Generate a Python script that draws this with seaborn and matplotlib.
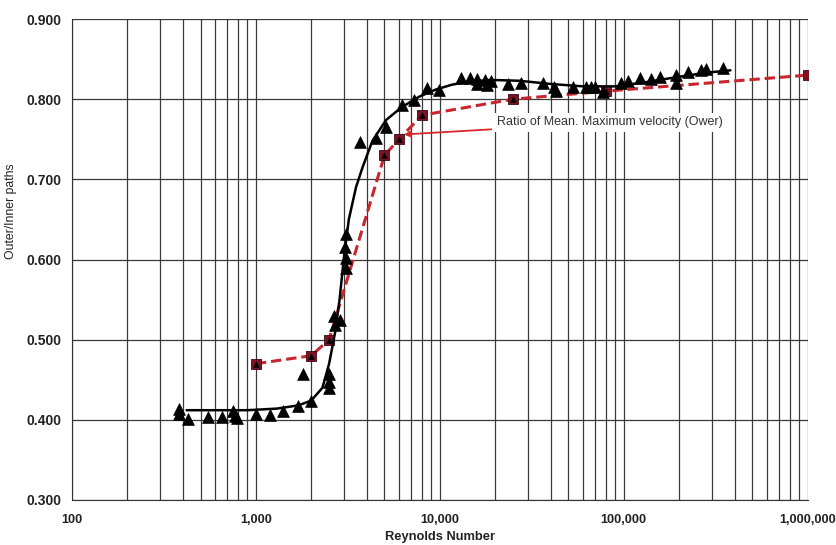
import seaborn as sns
import matplotlib.pyplot as plt
import matplotlib.ticker as mticker
import numpy as np
import pandas as pd

# pontos medidos (triangulos)
re_medido = [380, 380, 430, 550, 650, 750, 770, 790, 1000, 1200, 1400, 1700, 2000,
             1800, 2500, 2500, 2500, 2650, 2850, 2700, 3100, 3050, 3100, 3100,
             3700, 4500, 5100, 6200, 7200, 8500, 9900, 13000, 14500, 16000, 17500,
             19000, 16000, 18000, 23500, 27500, 36500, 41500, 43000, 53000, 62000,
             66000, 70000, 77000, 96000, 106000, 123000, 141000, 158000, 193000,
             193000, 224000, 263000, 280000, 346000]
razao_medida = [0.413, 0.407, 0.401, 0.403, 0.404, 0.411, 0.405, 0.402, 0.407, 0.406,
                0.411, 0.417, 0.424, 0.457, 0.457, 0.447, 0.440, 0.530, 0.524, 0.518,
                0.632, 0.615, 0.602, 0.590, 0.746, 0.752, 0.765, 0.793, 0.799, 0.814,
                0.811, 0.826, 0.826, 0.825, 0.824, 0.823, 0.819, 0.818, 0.819, 0.820,
                0.820, 0.815, 0.810, 0.815, 0.815, 0.815, 0.815, 0.809, 0.820, 0.823,
                0.826, 0.825, 0.828, 0.830, 0.820, 0.834, 0.836, 0.838, 0.839]

# curva ajustada (linha preta)
re_ajuste = [420, 600, 900, 1300, 1700, 2000, 2300, 2500, 2700, 2850, 3000, 3200,
             3500, 3800, 4300, 5100, 6200, 7700, 9500, 11600, 14400, 19000, 27000,
             40000, 60000, 90000, 130000, 200000, 280000, 380000]
razao_ajuste = [0.412, 0.412, 0.412, 0.414, 0.418, 0.424, 0.440, 0.470, 0.510, 0.550,
                0.600, 0.650, 0.690, 0.715, 0.748, 0.774, 0.790, 0.803, 0.812, 0.818,
                0.822, 0.824, 0.823, 0.819, 0.816, 0.816, 0.821, 0.828, 0.833, 0.836]

# razao velocidade media / maxima (Ower)
re_ower = [1000, 2000, 2500, 5000, 6000, 8000, 25000, 80000, 1000000]
razao_ower = [0.470, 0.480, 0.500, 0.730, 0.750, 0.780, 0.800, 0.810, 0.830]

df_medido = pd.DataFrame({'Re': re_medido, 'razao': razao_medida})
df_ajuste = pd.DataFrame({'Re': re_ajuste, 'razao': razao_ajuste})
df_ower = pd.DataFrame({'Re': re_ower, 'razao': razao_ower})

sns.set_style("white")
plt.rcParams['font.family'] = ['Liberation Sans', 'DejaVu Sans']

fig = plt.figure(figsize=(8.37, 5.45), dpi=100)
eixo = fig.add_axes([0.086, 0.0826, 0.879, 0.8825])

eixo.set_xscale('log')
eixo.set_xlim(100, 1000000)
eixo.set_ylim(0.3, 0.9)

# grade
eixo.xaxis.set_minor_locator(mticker.LogLocator(base=10, subs=np.arange(2, 10)))
eixo.xaxis.set_minor_formatter(mticker.NullFormatter())
eixo.grid(True, which='both', axis='x', color='#3a3a3a', linewidth=0.9)
eixo.grid(True, which='major', axis='y', color='#3a3a3a', linewidth=0.9)
eixo.set_axisbelow(True)

sns.lineplot(data=df_ower, x='Re', y='razao', ax=eixo, color='#c8262e',
             linestyle=(0, (3.4, 1.6)), linewidth=2.2, sort=False, zorder=3)
sns.scatterplot(data=df_ower, x='Re', y='razao', ax=eixo, marker='s', s=55,
                color='#7a1424', edgecolor='#3a0a10', linewidth=0.6, zorder=4)
sns.lineplot(data=df_ajuste, x='Re', y='razao', ax=eixo, color='black',
             linewidth=1.8, sort=False, zorder=5)
sns.scatterplot(data=df_medido, x='Re', y='razao', ax=eixo, marker='^', s=72,
                color='black', edgecolor='black', linewidth=0.5, zorder=6)
sns.scatterplot(data=df_ower.iloc[:-1], x='Re', y='razao', ax=eixo, marker='^', s=22,
                color='black', linewidth=0, zorder=7)

eixo.xaxis.set_major_formatter(mticker.FuncFormatter(lambda v, p: f'{int(round(v)):,}'))
eixo.yaxis.set_major_locator(mticker.MultipleLocator(0.1))
eixo.yaxis.set_major_formatter(mticker.FormatStrFormatter('%.3f'))

eixo.tick_params(axis='both', which='major', length=4, width=0.8,
                 direction='out', colors='#333333', labelcolor='#222222')
eixo.tick_params(axis='y', which='major', labelsize=10)
eixo.tick_params(axis='x', which='major', labelsize=9.2, pad=6)
eixo.tick_params(axis='x', which='minor', length=0)
for rotulo in eixo.get_xticklabels() + eixo.get_yticklabels():
    rotulo.set_fontweight('bold')

for lado in ['top', 'right']:
    eixo.spines[lado].set_visible(False)
eixo.spines['left'].set_color('#333333')
eixo.spines['bottom'].set_color('#333333')

eixo.set_xlabel('Reynolds Number', fontsize=9.3, fontweight='bold', labelpad=4, color='#222222')
eixo.set_ylabel('Outer/Inner paths', fontsize=8.8, color='#222222')
eixo.yaxis.set_label_coords(-0.075, 0.6)

eixo.annotate('Ratio of Mean. Maximum velocity (Ower)', xy=(6380, 0.756),
              xytext=(20500, 0.771), fontsize=9, color='#333333', va='center',
              bbox=dict(boxstyle='square,pad=0.25', facecolor='white', edgecolor='none'),
              arrowprops=dict(arrowstyle='-|>', color='#d42a2a', lw=1.3,
                              shrinkA=2, shrinkB=0, mutation_scale=9),
              zorder=8)

plt.savefig('out.png', dpi=100)
